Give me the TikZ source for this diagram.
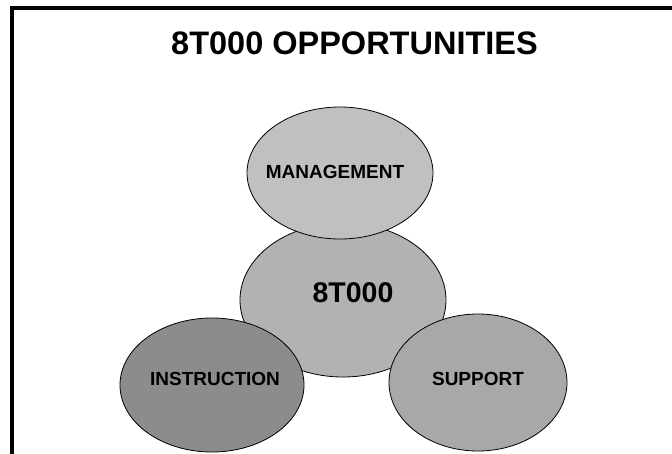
\documentclass[tikz,border=0pt]{standalone}
\usepackage{fontspec}
\setmainfont{Liberation Sans}
\usetikzlibrary{shapes.geometric}
\definecolor{mgmtgray}{HTML}{C0C0C0}
\definecolor{coregray}{HTML}{B2B2B2}
\definecolor{instrgray}{HTML}{8C8C8C}
\definecolor{suppgray}{HTML}{A8A8A8}
\tikzset{
  blob/.style={ellipse, draw=black, line width=0.8pt, inner sep=0pt},
  lab/.style={inner sep=0pt, font=\bfseries\fontsize{19}{22}\selectfont},
  framebar/.style={line width=4pt, line join=miter, line cap=rect}
}
\begin{document}
\begin{tikzpicture}[x=1pt, y=-1pt]
\useasboundingbox (0,0) rectangle (672,453);
% frame (top and left only)
\coordinate (fb) at (12,460);
\coordinate (fc) at (12,8);
\coordinate (fr) at (680,8);
\draw[framebar] (fb) -- (fc) -- (fr);
% title
\node[inner sep=0pt, font=\bfseries\fontsize{32.5}{36}\selectfont] (title) at (354.5,43.7) {8T000 OPPORTUNITIES};
% centre ellipse first (the others lie over it)
\node[blob, fill=coregray, minimum width=206pt, minimum height=154pt] (core) at (343,300) {};
\node[blob, fill=mgmtgray, minimum width=186pt, minimum height=132pt] (mgmt) at (340,173) {};
\node[blob, fill=instrgray, minimum width=184pt, minimum height=134pt] (instr) at (212,385) {};
\node[blob, fill=suppgray, minimum width=178pt, minimum height=137pt] (supp) at (478,382.5) {};
% labels
\node[lab] (mgmtlab) at (335,172) {MANAGEMENT};
\node[inner sep=0pt, font=\bfseries\fontsize{28.5}{32}\selectfont] (corelab) at (353,293) {8T000};
\node[lab] (instrlab) at (215,379) {INSTRUCTION};
\node[lab] (supplab) at (478,379) {SUPPORT};
\end{tikzpicture}
\end{document}
